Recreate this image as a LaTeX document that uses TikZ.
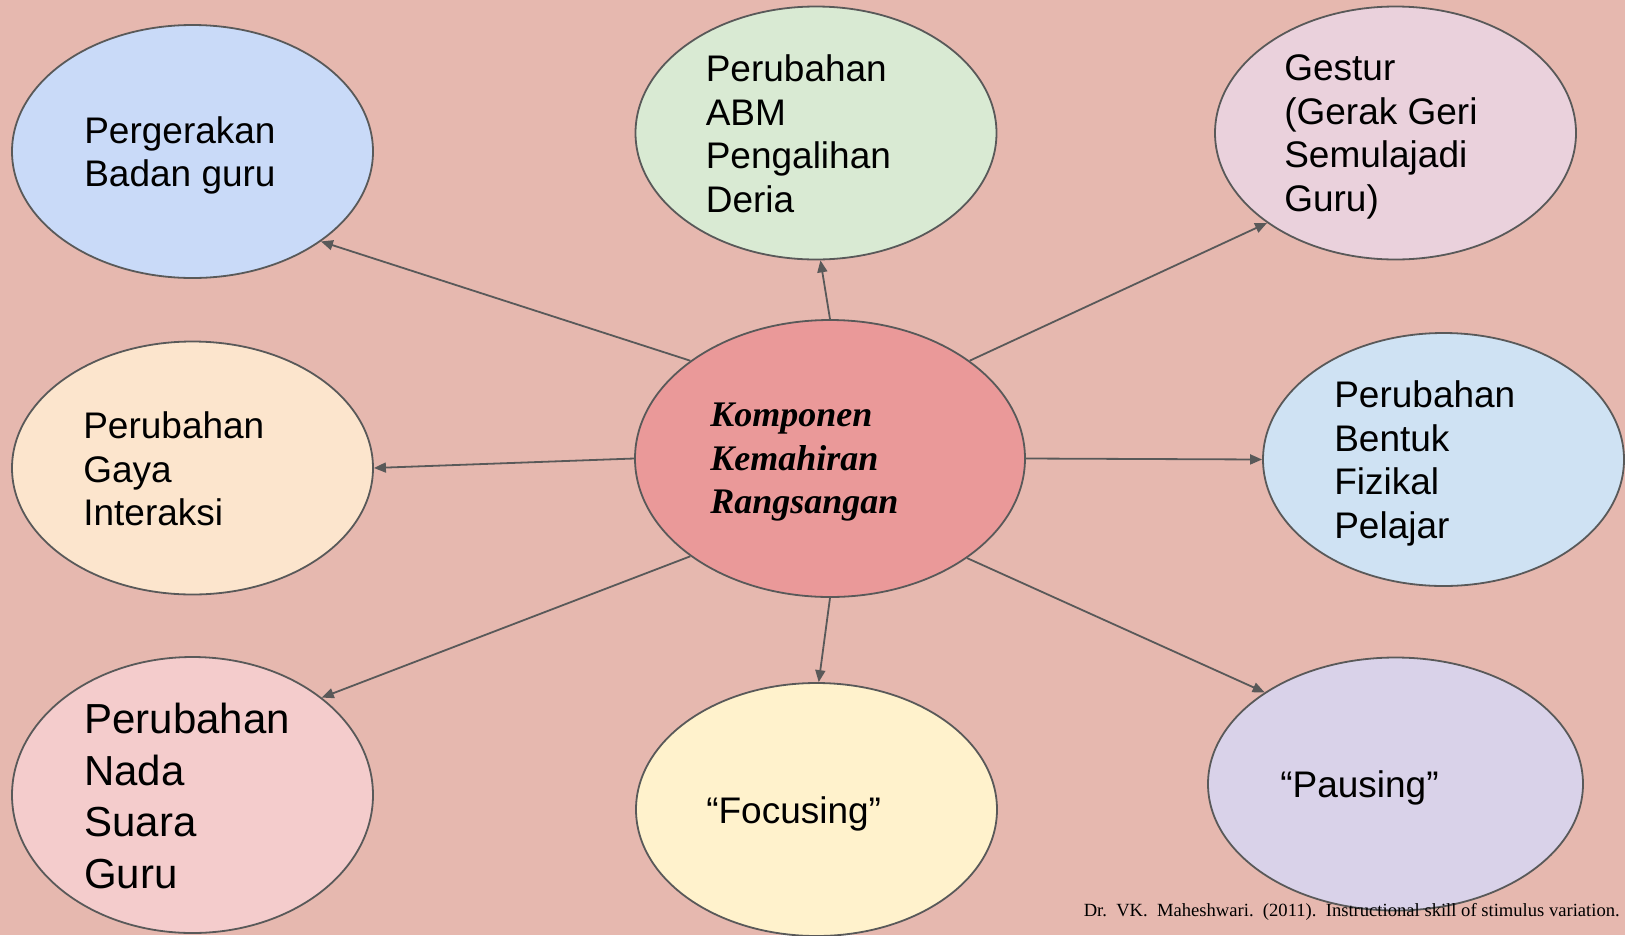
\documentclass[tikz,border=0pt]{standalone}
\usepackage{fontspec}
\setmainfont{Liberation Sans}
\newfontfamily\citefont{Liberation Serif}
\usetikzlibrary{shapes.geometric, positioning, arrows.meta}

\definecolor{backdrop}{HTML}{E6B8AF}
\definecolor{edgegray}{HTML}{595959}
\definecolor{hubred}{HTML}{EA9999}
\definecolor{blueA}{HTML}{C9DAF8}
\definecolor{blueB}{HTML}{CFE2F3}
\definecolor{greenA}{HTML}{D9EAD3}
\definecolor{pinkA}{HTML}{EAD1DC}
\definecolor{pinkB}{HTML}{F4CCCC}
\definecolor{peachA}{HTML}{FCE5CD}
\definecolor{yellowA}{HTML}{FFF2CC}
\definecolor{purpleA}{HTML}{D9D2E9}

\begin{document}
\begin{tikzpicture}[x=1pt, y=-1pt,
    bubble/.style={
      ellipse,
      draw=edgegray,
      line width=1.8pt,
      inner sep=0pt,
      minimum width=361pt,
      minimum height=253pt
    },
    words/.style={inner sep=0pt, align=left, yshift=-4pt, font=\fontsize{37}{43.5}\selectfont},
    link/.style={->, draw=edgegray, line width=1.8pt},
    >={Triangle[length=12pt,width=10pt]}]
  \fill[backdrop] (0,0) rectangle (1625,935);
  \useasboundingbox (0,0) rectangle (1625,935);

  % hub in the middle
  \node[bubble, fill=hubred, minimum width=390pt, minimum height=277pt] (hub) at (830,458.5) {};
  \node[words, right=76pt of hub.west, font=\citefont\bfseries\itshape\fontsize{36}{43.5}\selectfont] (hubText) {Komponen\\Kemahiran\\Rangsangan};

  % outer bubbles
  \node[bubble, fill=blueA] (badan) at (192.5,151.5) {};
  \node[words, right=73pt of badan.west] (badanText) {Pergerakan\\Badan guru};
  \node[bubble, fill=greenA] (abm) at (816,133) {};
  \node[words, right=71pt of abm.west, yshift=3pt] (abmText) {Perubahan\\ABM\\Pengalihan\\Deria};
  \node[bubble, fill=pinkA] (gestur) at (1395.5,133) {};
  \node[words, right=70pt of gestur.west] (gesturText) {Gestur\\(Gerak Geri\\Semulajadi\\Guru)};
  \node[bubble, fill=peachA] (gaya) at (192.5,468) {};
  \node[words, right=72pt of gaya.west, yshift=3pt] (gayaText) {Perubahan\\Gaya\\Interaksi};
  \node[bubble, fill=blueB] (bentuk) at (1443.5,459.5) {};
  \node[words, right=72pt of bentuk.west] (bentukText) {Perubahan\\Bentuk\\Fizikal\\Pelajar};
  \node[bubble, fill=pinkB, minimum height=276pt] (nada) at (192.5,795) {};
  \node[words, right=73pt of nada.west, yshift=3pt, font=\fontsize{42}{51.7}\selectfont] (nadaText) {Perubahan\\Nada\\Suara\\Guru};
  \node[bubble, fill=yellowA] (focus) at (816.5,809.5) {};
  \node[words, right=71pt of focus.west] (focusText) {“Focusing”};
  \node[bubble, fill=purpleA, minimum width=375pt] (pause) at (1395.5,784) {};
  \node[words, right=73pt of pause.west] (pauseText) {“Pausing”};

  % connectors
  \draw[link] (hub.145) -- (badan.-35.7);
  \draw[link] (hub.90) -- (abm.-88.6);
  \draw[link] (hub.35.7) -- (gestur.215.2);
  \draw[link] (hub.180) -- (gaya.0);
  \draw[link] (hub.0) -- (bentuk.180);
  \draw[link] (hub.215.6) -- (nada.37.5);
  \draw[link] (hub.-90) -- (focus.89.3);
  \draw[link] (hub.-36) -- (pause.145.7);

  \node[anchor=base east, inner sep=0pt, font=\citefont\fontsize{18.6}{22}\selectfont] (cite) at (1620,916)
    {Dr.\ \ VK.\ \ Maheshwari.\ \ (2011).\ \ Instructional skill of stimulus variation.};
\end{tikzpicture}
\end{document}
